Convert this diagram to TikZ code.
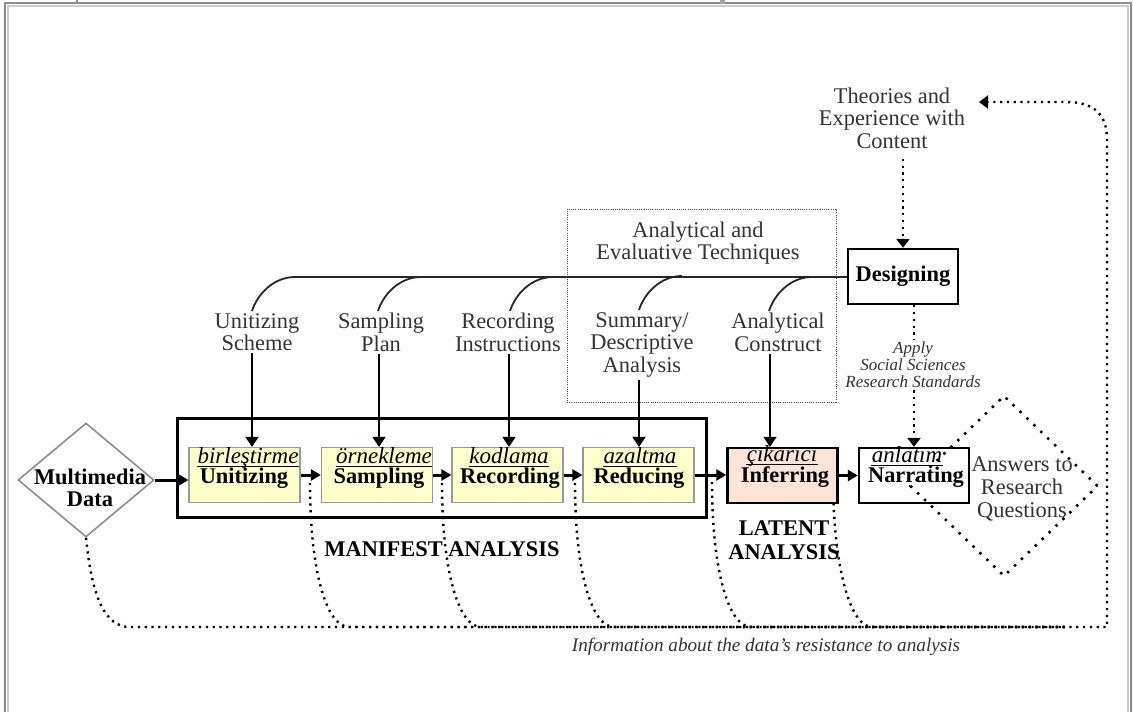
\documentclass[tikz,border=0pt]{standalone}
\usepackage{fontspec}
\setmainfont{Liberation Serif}
\usetikzlibrary{arrows.meta,shapes.geometric}
\definecolor{stagefill}{HTML}{FFFFCC}
\definecolor{latentfill}{HTML}{FCE4D6}
\begin{document}
\begin{tikzpicture}[x=0.5pt, y=-0.5pt,
  lbl/.style={font=\fontsize{11.2}{11.3}\selectfont, align=center, text=black!80, inner sep=1pt},
  heading/.style={font=\fontsize{11.2}{10.8}\selectfont\bfseries, align=center, inner sep=0pt},
  trword/.style={font=\fontsize{11.5}{12}\selectfont\itshape, inner sep=0pt, anchor=base},
  stagename/.style={font=\fontsize{11.2}{12}\selectfont\bfseries, inner sep=0pt, anchor=base},
  stagebox/.style={draw=black!40, line width=0.6pt, fill=stagefill, minimum width=55.5pt, minimum height=27.5pt, inner sep=0pt},
  keybox/.style={draw, line width=1.2pt, minimum width=55pt, minimum height=27.5pt, inner sep=0pt},
  flow/.style={line width=1.5pt, -{Triangle[length=5pt,width=5.5pt]}},
  feed/.style={line width=0.8pt, -{Triangle[length=5pt,width=6.5pt]}},
  bus/.style={line width=1pt, black!85},
  hook/.style={line width=0.9pt, black!85},
  dots/.style={line width=1.2pt, dash pattern=on 1.1pt off 2.3pt},
  bigdots/.style={line width=1.3pt, dash pattern=on 1.2pt off 3.6pt},
  finedots/.style={line width=0.5pt, black!70, dash pattern=on 0.5pt off 0.6pt},
  dottip/.style={-{Triangle[length=4.5pt,width=6.5pt]}},
  uline/.style={line width=0.6pt}
]
\useasboundingbox (0,0) rectangle (1133,712);

% window frame
\draw[black!45, line width=0.8pt] (5,712) -- (5,3) -- (1131,3) -- (1131,712);
\draw[black!20, line width=0.6pt] (8,712) -- (8,6) -- (1128,6) -- (1128,712);
\draw[black!45, line width=0.6pt] (77,0) -- (77,3);
\fill[black!35] (720,0) rectangle (725,4);

% input
\node[diamond, draw=black!45, line width=0.8pt, minimum width=68pt, minimum height=57pt, inner sep=0pt] (mm) at (86,480) {};
\node[heading] at (90,488) {Multimedia\\Data};

% manifest analysis frame
\node[draw, line width=1.5pt, minimum width=264.5pt, minimum height=49.5pt, inner sep=0pt] (manifest) at (441.5,467.5) {};

% feedback about the data's resistance
\coordinate (fbR) at (1107,627);
\coordinate (fbTip) at (979,102);
\draw[dots, dottip] (mm.south) .. controls +(6,60) and +(-25,0) .. (130,627) -- (fbR) -- (1107,140)
  .. controls (1107,114) and (1094,102) .. (1066,102) -- (fbTip);
\foreach \i/\x/\y in {1/310/483, 2/442/483, 3/575/483, 4/712/482, 5/833/476} {
  \coordinate (f\i) at (\x,\y);
  \draw[dots] (f\i) .. controls +(0,90) and +(-22,0) .. (\x+39,627) -- (1065,627);
}

% stages
\node[stagebox] (bU) at (244.5,475) {};
\node[stagebox] (bS) at (377,475) {};
\node[stagebox] (bR) at (507.5,475) {};
\node[stagebox] (bD) at (638.5,475) {};
\node[keybox, fill=latentfill] (bI) at (782.5,475.5) {};
\node[keybox, fill=white] (bN) at (914,475.5) {};

\node[trword] (tU) at (248,463) {birleştirme};
\node[stagename] at (244,483) {Unitizing};
\node[trword] (tS) at (384,463) {örnekleme};
\node[stagename] at (379,483) {Sampling};
\node[trword] (tR) at (509,463) {kodlama};
\node[stagename] at (510,483) {Recording};
\node[trword] (tD) at (640,463) {azaltma};
\node[stagename] at (639,483) {Reducing};
\node[trword] (tI) at (782,461) {çıkarıcı};
\node[stagename] at (785,482) {Inferring};
\node[trword] (tN) at (907,462) {anlatım};
\node[stagename] at (916,482) {Narrating};
\foreach \w in {tU,tS,tR,tD,tI,tN}
  \draw[uline] ([yshift=-1.6pt]\w.base west) -- ([yshift=-1.6pt]\w.base east);

% main flow
\draw[flow] (mm.east) -- (mm.east -| bU.west);
\draw[flow] (bU.east) -- (bS.west);
\draw[flow] (bS.east) -- (bR.west);
\draw[flow] (bR.east) -- (bD.west);
\draw[flow] (bD.east) -- (bD.east -| bI.west);
\draw[flow] (bI.east) -- (bN.west);

% answers
\node[diamond, draw, bigdots, minimum width=94pt, minimum height=90.5pt, inner sep=0pt] (ans) at (1004,486) {};
\node[lbl] at (1022,489) {Answers to\\Research\\Questions};

\node[heading] at (442,549) {MANIFEST ANALYSIS};
\node[heading, font=\fontsize{11.2}{12}\selectfont\bfseries] at (784,540) {LATENT\\ANALYSIS};

% analytical and evaluative techniques
\node[draw, finedots, minimum width=134.5pt, minimum height=96.5pt, inner sep=0pt] (tech) at (701.5,305.5) {};
\node[lbl] (techT) at (698,243) {Analytical and\\Evaluative Techniques};

% design inputs
\node[lbl, anchor=north] (lU) at (257,311) {Unitizing\\Scheme};
\node[lbl, anchor=north] (lS) at (381,311) {Sampling\\Plan};
\node[lbl, anchor=north] (lR) at (508,311) {Recording\\Instructions};
\node[lbl, anchor=north] (lD) at (642,310) {Summary/\\Descriptive\\Analysis};
\node[lbl, anchor=north] (lA) at (778,311) {Analytical\\Construct};

\node[keybox, fill=white, font=\fontsize{11.2}{12}\selectfont\bfseries] (des) at (903,276.5) {Designing};

\coordinate (hU) at ([xshift=-2.5pt]lU.north);
\coordinate (hS) at ([xshift=-1.5pt]lS.north);
\coordinate (hR) at ([xshift=1pt]lR.north);
\coordinate (hD) at ([xshift=-1.5pt]lD.north);
\coordinate (hA) at ([xshift=-4.5pt]lA.north);
\coordinate (busL) at ([shift={(43,-34)}]hU);
\draw[bus] (busL) -- (busL -| des.west);
\foreach \h in {hU,hS,hR,hD,hA}
  \draw[hook] (\h) .. controls +(5,-16) and +(-22,0) .. +(43,-34);

\coordinate (aU) at ([xshift=-2.5pt]lU.south);
\coordinate (aS) at ([xshift=-1pt]lS.south);
\coordinate (aR) at ([xshift=0.5pt]lR.south);
\coordinate (aD) at ([xshift=-1.5pt]lD.south);
\coordinate (aA) at ([xshift=-4pt]lA.south);
\draw[feed] (aU) -- (aU |- bU.north);
\draw[feed] (aS) -- (aS |- bS.north);
\draw[feed] (aR) -- (aR |- bR.north);
\draw[feed] (aD) -- (aD |- bD.north);
\draw[feed] (aA) -- (aA |- bI.north);

% theory input and standards
\node[lbl] (theo) at (892,118) {Theories and\\Experience with\\Content};
\coordinate (tA) at (theo.south -| des.north);
\draw[dots, dottip, shorten <=4pt] (tA) -- (des.north);

\node[font=\fontsize{8.5}{8.5}\selectfont\itshape, align=center, text=black!80, inner sep=1pt] (apply) at (913,365) {Apply\\Social Sciences\\Research Standards};
\coordinate (apT) at (des.south -| bN.north);
\draw[dots] (apT) -- (apT |- apply.north);
\draw[dots, dottip] (apply.south -| bN.north) -- (bN.north);

\node[font=\fontsize{9.6}{10}\selectfont\itshape, text=black!80] (info) at (766,647) {Information about the data’s resistance to analysis};
\end{tikzpicture}
\end{document}
